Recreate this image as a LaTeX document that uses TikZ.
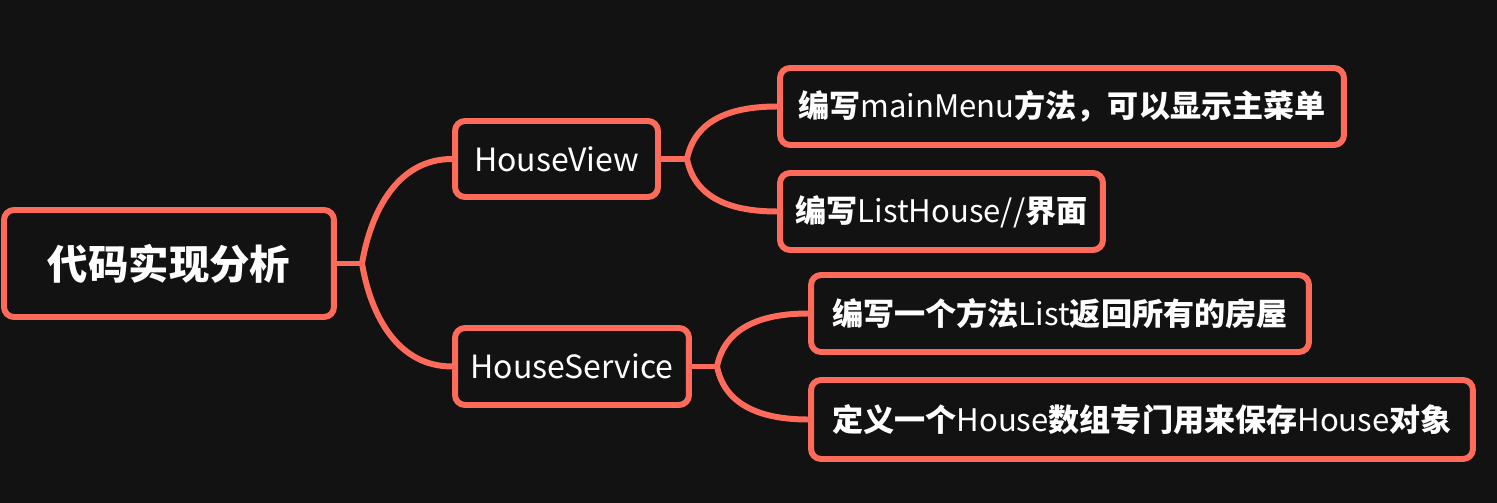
\documentclass[tikz,border=0pt]{standalone}
\usepackage{fontspec}
\newfontfamily\cjk{Noto Sans CJK SC}
\definecolor{bgdark}{RGB}{18,18,18}
\definecolor{coral}{RGB}{255,107,91}
\newcommand{\zh}[1]{{\bfseries #1}}

\begin{document}
\begin{tikzpicture}[x=0.02cm, y=-0.02cm,
    topic/.style={draw=coral, line width=3.4pt, rounded corners=0.2cm, fill=bgdark, text=white, inner sep=0pt, minimum height=1.54cm, font=\cjk\fontsize{18.2}{22}\selectfont},
    subtopic/.style={topic, font=\cjk\fontsize{17.7}{21}\selectfont},
    branch/.style={coral, line width=3.4pt}]
    % Background
    \fill[bgdark] (0,0) rectangle (1497,503);
    \useasboundingbox (0,0) rectangle (1497,503);

    % Root
    \node[topic, minimum width=6.6cm, minimum height=2.14cm, font=\cjk\bfseries\fontsize{23}{28}\selectfont] (root) at (169, 263.5) {代码实现分析};

    % Main topics
    \node[topic, minimum width=4.06cm, minimum height=1.52cm] (hview) at (556.5, 159) {HouseView};
    \node[topic, minimum width=4.68cm] (hservice) at (572, 366.5) {HouseService};

    % Subtopics
    \node[subtopic, minimum width=11.28cm] (leaf1) at (1062, 106.5) {\zh{编写}mainMenu\zh{方法，可以显示主菜单}};
    \node[subtopic, minimum width=6.46cm] (leaf2) at (941.5, 211.5) {\zh{编写}ListHouse//\zh{界面}};
    \node[subtopic, minimum width=9.96cm] (leaf3) at (1060, 313.5) {\zh{编写一个方法}List\zh{返回所有的房屋}};
    \node[subtopic, minimum width=13.24cm, minimum height=1.58cm] (leaf4) at (1142, 419.5) {\zh{定义一个}House\zh{数组专门用来保存}House\zh{对象}};

    % Junctions
    \coordinate (jroot) at (362, 263.5);
    \coordinate (jview) at (687, 159);
    \coordinate (jserv) at (717, 366.5);

    % Connections
    \draw[branch] (root.east) -- (jroot);
    \draw[branch] (hview.east) -- (jview);
    \draw[branch] (hservice.east) -- (jserv);
    \draw[branch] (jroot) .. controls +(9,-53) and +(-54,0) .. (hview.west);
    \draw[branch] (jroot) .. controls +(9,53) and +(-54,0) .. (hservice.west);
    \foreach \leaf/\j/\dy in {leaf1/jview/-1, leaf2/jview/1, leaf3/jserv/-1, leaf4/jserv/1} {
        \draw[branch] (\j) .. controls +(8,40*\dy) and +(-45,0) .. (\leaf.west);
    }
\end{tikzpicture}
\end{document}
